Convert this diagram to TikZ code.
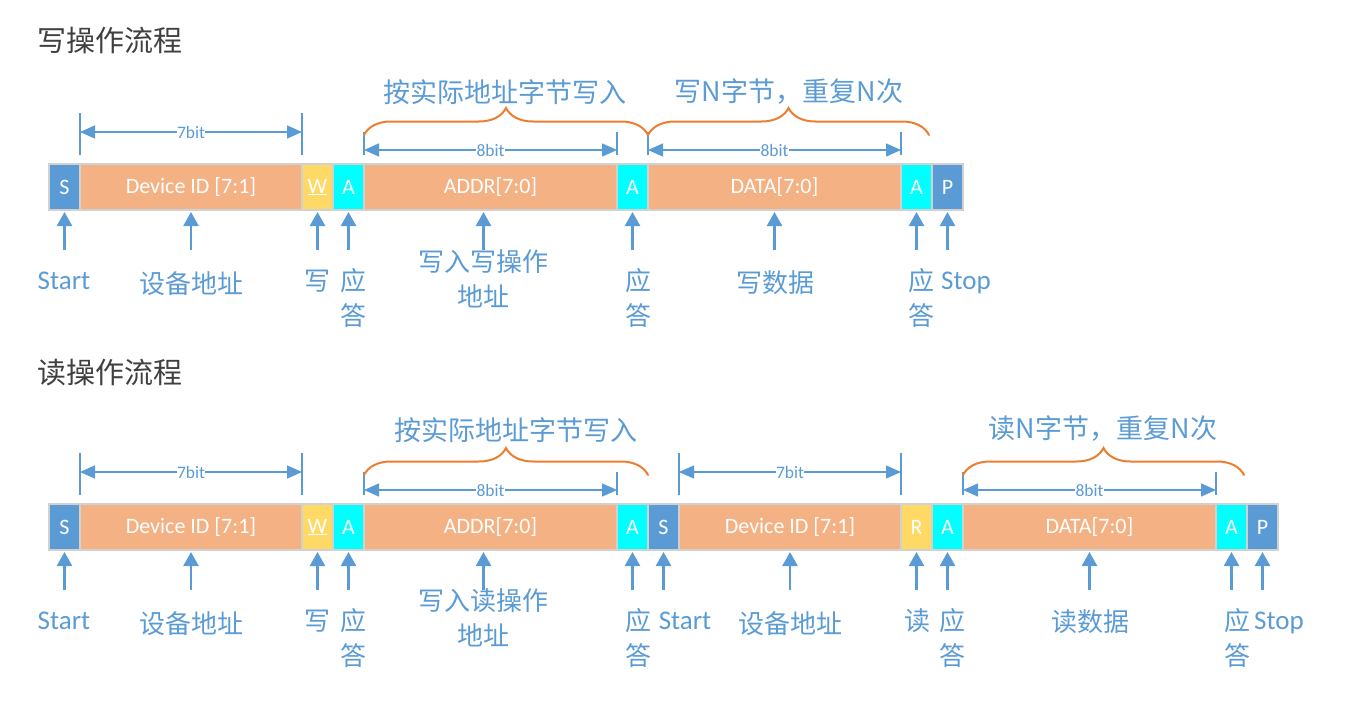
\documentclass[tikz,border=0pt]{standalone}
\usepackage{fontspec}
\setmainfont{Carlito}
\newfontfamily\cjk{Noto Sans CJK SC}
\usetikzlibrary{arrows.meta, positioning, calc, decorations.pathreplacing}

\definecolor{bitblue}{HTML}{5B9BD5}
\definecolor{idorange}{HTML}{F4B183}
\definecolor{rwyellow}{HTML}{FFD966}
\definecolor{ackcyan}{HTML}{00FFFF}
\definecolor{braceorange}{HTML}{ED7D31}
\definecolor{titlegray}{HTML}{404040}

\newcommand\bitspan[4]{%
  \draw[tick] ([yshift=9pt]#1.north west) -- ([yshift=#3]#1.north west);
  \draw[tick] ([yshift=9pt]#1.north east) -- ([yshift=#3]#1.north east);
  \draw[dim] ([yshift=#4]#1.north west) -- node[bits] {#2} ([yshift=#4]#1.north east);}

\begin{document}
\begin{tikzpicture}[x=1pt, y=-1pt,
    field/.style={draw=black!18, line width=1.5pt, outer sep=0pt, inner sep=0pt,
      minimum height=46pt, text=white, font=\fontsize{22}{25}\selectfont},
    short/.style={field, minimum width=31pt},
    long/.style={field, fill=idorange, minimum width=253pt},
    devid/.style={field, fill=idorange, minimum width=222pt},
    uparrow/.style={draw=bitblue, line width=2.5pt, -{Triangle[width=15pt,length=14pt]}},
    dim/.style={draw=bitblue, line width=1.5pt,
      {Triangle[width=13pt,length=15pt]}-{Triangle[width=13pt,length=15pt]}},
    tick/.style={draw=bitblue, line width=1.5pt},
    bits/.style={fill=white, inner sep=0.5pt, text=bitblue, font=\fontsize{17.5}{20}\selectfont},
    brace/.style={draw=braceorange, line width=2pt, line cap=round, decorate,
      decoration={brace, amplitude=27pt}},
    hdr/.style={text=bitblue, font=\cjk\fontsize{27}{32}\selectfont},
    lbl/.style={text=bitblue, align=center, font=\cjk\fontsize{26}{35}\selectfont},
    lat/.style={text=bitblue, text height=17pt, text depth=0pt, font=\fontsize{27}{32}\selectfont},
    ttl/.style={anchor=west, text=titlegray, font=\cjk\fontsize{29}{34}\selectfont}]
    \useasboundingbox (0,0) rectangle (1354,701);

    % write
    \node[ttl] (wtitle) at (34,40) {写操作流程};
    \node[short, fill=bitblue, anchor=west] (ws) at (49,187) {S};
    \node[devid, right=0pt of ws] (wid) {Device ID [7:1]};
    \node[short, fill=rwyellow, right=0pt of wid] (ww) {\underline{W}};
    \node[short, fill=ackcyan, right=0pt of ww] (wa1) {A};
    \node[long, right=0pt of wa1] (waddr) {ADDR[7:0]};
    \node[short, fill=ackcyan, right=0pt of waddr] (wa2) {A};
    \node[long, right=0pt of wa2] (wdata) {DATA[7:0]};
    \node[short, fill=ackcyan, right=0pt of wdata] (wa3) {A};
    \node[short, fill=bitblue, right=0pt of wa3] (wp) {P};

    \bitspan{wid}{7bit}{51pt}{32pt}
    \bitspan{waddr}{8bit}{32pt}{14pt}
    \bitspan{wdata}{8bit}{32pt}{14pt}
    \draw[brace] ([yshift=29pt]waddr.north west) -- ([yshift=29pt]wa2.north east);
    \draw[brace] ([yshift=29pt]wdata.north west) -- ([xshift=-3pt,yshift=29pt]wa3.north east);
    \node[hdr] (whdr1) at (505,92) {按实际地址字节写入};
    \node[hdr] (whdr2) at (789,92) {写N字节，重复N次};

    \foreach \c/\dx in {ws/0, wid/0, ww/0, wa1/0, waddr/-7, wa2/0, wdata/0, wa3/0, wp/0}
      \draw[uparrow] ([xshift=\dx pt, yshift=-40pt]\c.south) -- ([xshift=\dx pt, yshift=-2pt]\c.south);

    \node[lat] (wlstart) at (64,281) {Start};
    \node[lbl] (wldev) at (191,284) {设备地址};
    \node[lbl] (wlw) at (317,281) {写};
    \node[lbl] (wlack1) at (353,298) {应\\答};
    \node[lbl] (wladdr) at (483,279) {写入写操作\\地址};
    \node[lbl] (wlack2) at (638,298) {应\\答};
    \node[lbl] (wldata) at (775,283) {写数据};
    \node[lbl] (wlack3) at (921,298) {应\\答};
    \node[lat] (wlstop) at (966,281) {Stop};

    % read
    \node[ttl] (rtitle) at (34,373) {读操作流程};
    \node[short, fill=bitblue, anchor=west] (rs) at (49,527) {S};
    \node[devid, right=0pt of rs] (rid) {Device ID [7:1]};
    \node[short, fill=rwyellow, right=0pt of rid] (rw) {\underline{W}};
    \node[short, fill=ackcyan, right=0pt of rw] (ra1) {A};
    \node[long, right=0pt of ra1] (raddr) {ADDR[7:0]};
    \node[short, fill=ackcyan, right=0pt of raddr] (ra2) {A};
    \node[short, fill=bitblue, right=0pt of ra2] (rs2) {S};
    \node[devid, right=0pt of rs2] (rid2) {Device ID [7:1]};
    \node[short, fill=rwyellow, right=0pt of rid2] (rr) {R};
    \node[short, fill=ackcyan, right=0pt of rr] (ra3) {A};
    \node[long, right=0pt of ra3] (rdata) {DATA[7:0]};
    \node[short, fill=ackcyan, right=0pt of rdata] (ra4) {A};
    \node[short, fill=bitblue, right=0pt of ra4] (rp) {P};

    \bitspan{rid}{7bit}{51pt}{32pt}
    \bitspan{raddr}{8bit}{32pt}{14pt}
    \bitspan{rid2}{7bit}{51pt}{32pt}
    \bitspan{rdata}{8bit}{32pt}{14pt}
    \draw[brace] ([yshift=29pt]raddr.north west) -- ([yshift=29pt]ra2.north east);
    \draw[brace] ([yshift=29pt]rdata.north west) -- ([xshift=-3pt,yshift=29pt]ra4.north east);
    \node[hdr] (rhdr1) at (516,430) {按实际地址字节写入};
    \node[hdr] (rhdr2) at (1103,429) {读N字节，重复N次};

    \foreach \c/\dx in {rs/0, rid/0, rw/0, ra1/0, raddr/-7, ra2/0, rs2/0, rid2/0, rr/0, ra3/0,
        rdata/0, ra4/0, rp/0}
      \draw[uparrow] ([xshift=\dx pt, yshift=-40pt]\c.south) -- ([xshift=\dx pt, yshift=-2pt]\c.south);

    \node[lat] (rlstart) at (64,621) {Start};
    \node[lbl] (rldev) at (191,624) {设备地址};
    \node[lbl] (rlw) at (317,621) {写};
    \node[lbl] (rlack1) at (353,638) {应\\答};
    \node[lbl] (rladdr) at (483,618) {写入读操作\\地址};
    \node[lbl] (rlack2) at (638,638) {应\\答};
    \node[lat] (rlstart2) at (685,621) {Start};
    \node[lbl] (rldev2) at (790,624) {设备地址};
    \node[lbl] (rlr) at (917,621) {读};
    \node[lbl] (rlack3) at (952,638) {应\\答};
    \node[lbl] (rldata) at (1090,622) {读数据};
    \node[lbl] (rlack4) at (1237,638) {应\\答};
    \node[lat] (rlstop) at (1279,621) {Stop};
\end{tikzpicture}
\end{document}
